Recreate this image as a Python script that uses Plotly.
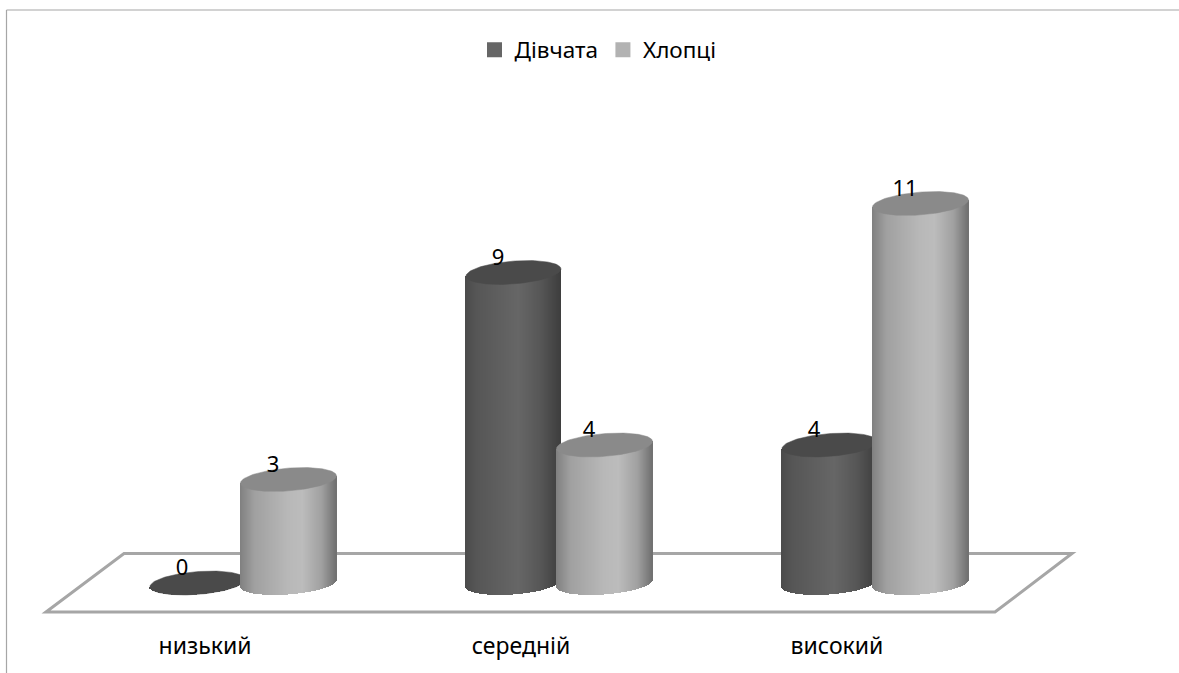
import numpy as np
import plotly.graph_objects as go

categories = ["низький", "середній", "високий"]
girls = [0, 9, 4]
boys = [3, 4, 11]
series_names = ["Дівчата", "Хлопці"]

W, H = 1179, 673
BASE_PX, UNIT_PX = 583.0, 34.5   # pixel row of value 0, pixels per value unit
CAT0_PX, CAT_PX = 243.0, 316.0   # pixel column of first category, pixels per category
FONT = "Noto Sans"

XR = [-CAT0_PX / CAT_PX, (W - CAT0_PX) / CAT_PX]
YR = [-(H - BASE_PX) / UNIT_PX, BASE_PX / UNIT_PX]

OFFSET = 45.5 / CAT_PX
SHEAR, MINOR = (3.6 / 48) * (CAT_PX / UNIT_PX), 11.4 / UNIT_PX
SLICES = 96


def shade(stops, t):
    pos, val = zip(*stops)
    g = np.interp(t, pos, val).round().astype(int)
    return [f"rgb({v},{v},{v})" for v in g]


DARK_STOPS = [(0, 74), (0.12, 86), (0.55, 102), (0.8, 86), (1, 62)]
LIGHT_STOPS = [(0, 128), (0.15, 160), (0.5, 184), (0.65, 188), (0.85, 160), (1, 112)]


def cylinder_traces(values, offset, radius_px, stops, top_color, axes):
    radius = radius_px / CAT_PX
    xs, tops, bases, widths, cols = [], [], [], [], []
    ex, ey = [], []
    theta = np.linspace(0, 2 * np.pi, 120)
    t = (np.arange(SLICES) + 0.5) / SLICES
    u = 2 * t - 1
    for i, v in enumerate(values):
        c = i + offset
        dx = u * radius
        lower = SHEAR * dx - MINOR * np.sqrt(1 - u ** 2)
        xs.extend(c + dx)
        bases.extend(lower)
        tops.extend(v + SHEAR * dx - lower)
        widths.extend([1.6 / CAT_PX] * SLICES)
        cols.extend(shade(stops, t))
        ex.extend(c + radius * np.cos(theta))
        ey.extend(v + SHEAR * radius * np.cos(theta) + MINOR * np.sin(theta))
        ex.append(None)
        ey.append(None)
    return [
        go.Bar(x=xs, y=tops, base=bases, width=widths, marker=dict(color=cols, line=dict(width=0)),
               showlegend=False, hoverinfo="skip", xaxis=axes[0], yaxis=axes[1]),
        go.Scatter(x=ex, y=ey, mode="lines", fill="toself", fillcolor=top_color,
                   line=dict(width=0.5, color=top_color), showlegend=False, hoverinfo="skip",
                   xaxis=axes[0], yaxis=axes[1]),
    ]


fig = go.Figure()
for tr in cylinder_traces(girls, -OFFSET, 47.5, DARK_STOPS, "#4a4a4a", ("x", "y")):
    fig.add_trace(tr)
for tr in cylinder_traces(boys, OFFSET, 48, LIGHT_STOPS, "#8a8a8a", ("x2", "y2")):
    fig.add_trace(tr)

# Data labels
lab_dx, lab_dy = -15.5 / CAT_PX, 13.5 / UNIT_PX
idx = np.arange(len(categories))
fig.add_trace(go.Scatter(
    x=np.concatenate([idx - OFFSET + lab_dx, idx + OFFSET + lab_dx]),
    y=np.array(girls + boys) + lab_dy,
    text=[str(v) for v in girls + boys], mode="text", textposition="middle center",
    textfont=dict(family=FONT, size=22, color="#000000"),
    showlegend=False, hoverinfo="skip", xaxis="x2", yaxis="y2"))

# Category labels
fig.add_trace(go.Scatter(
    x=idx - 38 / CAT_PX, y=[-65 / UNIT_PX] * len(categories),
    text=categories, mode="text", textposition="middle center",
    textfont=dict(family=FONT, size=23, color="#000000"),
    showlegend=False, hoverinfo="skip", xaxis="x2", yaxis="y2"))

# Legend entries
for name, col in zip(series_names, ["#666666", "#b2b2b2"]):
    fig.add_trace(go.Scatter(x=[None], y=[None], mode="markers", name=name,
                             marker=dict(symbol="square", size=15, color=col)))


def px(x):
    return x / W


def py(y):
    return 1 - y / H


floor = [(46, 612), (124, 553.5), (1072, 553.5), (995, 612)]
path = "M " + " L ".join(f"{px(a):.5f},{py(b):.5f}" for a, b in floor) + " Z"
shapes = [
    dict(type="path", xref="paper", yref="paper", path=path, layer="below",
         line=dict(color="#a6a6a6", width=3), fillcolor="#ffffff"),
    dict(type="line", xref="paper", yref="paper", x0=px(6.5), x1=px(6.5), y0=py(10), y1=0,
         line=dict(color="#a6a6a6", width=1.2), layer="below"),
    dict(type="line", xref="paper", yref="paper", x0=px(6.5), x1=1, y0=py(10), y1=py(10),
         line=dict(color="#a6a6a6", width=1.2), layer="below"),
]

hidden = dict(visible=False, fixedrange=True, showgrid=False, zeroline=False)
fig.update_layout(
    width=W, height=H, autosize=False,
    margin=dict(l=0, r=0, t=0, b=0),
    paper_bgcolor="#ffffff", plot_bgcolor="rgba(0,0,0,0)",
    barmode="overlay", bargap=0,
    shapes=shapes,
    xaxis=dict(range=XR, **hidden),
    yaxis=dict(range=YR, **hidden),
    xaxis2=dict(range=XR, overlaying="x", **hidden),
    yaxis2=dict(range=YR, overlaying="y", **hidden),
    legend=dict(orientation="h", x=598 / W, xanchor="center", y=py(50), yanchor="middle",
                font=dict(family=FONT, size=22.5, color="#000000"), bgcolor="rgba(0,0,0,0)"),
)

fig.write_html("out.html", config=dict(displayModeBar=False),
               post_script="document.body.style.margin='0';document.body.style.overflow='hidden';")
